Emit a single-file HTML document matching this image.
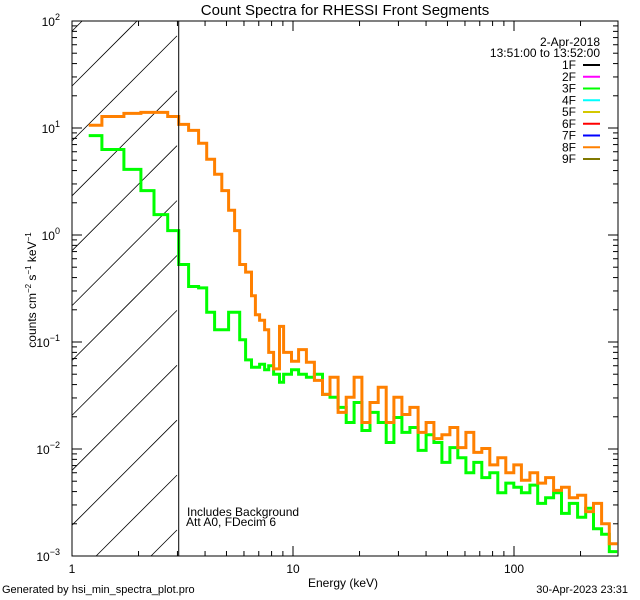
<!DOCTYPE html>
<html><head><meta charset="utf-8"><style>
html,body{margin:0;padding:0;background:#fff;width:640px;height:600px;overflow:hidden}
svg{display:block;font-family:"Liberation Sans",sans-serif}
</style></head><body>
<svg id="chart" width="640" height="600" viewBox="0 0 640 600" xmlns="http://www.w3.org/2000/svg">
<rect width="640" height="600" fill="#fff"/>
<text x="345" y="15" font-size="15" text-anchor="middle">Count Spectra for RHESSI Front Segments</text>
<defs><clipPath id="pc"><rect x="72" y="21" width="546" height="535"/></clipPath></defs>
<g id="hatch" stroke="#000" stroke-width="0.8"></g>
<g id="series" clip-path="url(#pc)"></g>
<g id="axes"></g>
<g font-size="12" text-anchor="end">
<text x="600" y="46">2-Apr-2018</text>
<text x="600" y="57">13:51:00 to 13:52:00</text>
</g>
<g id="legend"></g>
<text x="187" y="516" font-size="12">Includes Background</text>
<text x="186" y="526" font-size="12">Att A0, FDecim 6</text>
<text x="343" y="587" font-size="12" text-anchor="middle">Energy (keV)</text>
<text transform="translate(36,290) rotate(-90)" font-size="12" text-anchor="middle">counts cm<tspan font-size="8" dy="-5">−2</tspan><tspan dy="5"> s</tspan><tspan font-size="8" dy="-5">−1</tspan><tspan dy="5"> keV</tspan><tspan font-size="8" dy="-5">−1</tspan></text>
<text x="2" y="593" font-size="11">Generated by hsi_min_spectra_plot.pro</text>
<text x="628" y="593" font-size="11" text-anchor="end">30-Apr-2023 23:31</text>
</svg>
<script>
const edges=[1.19,1.366,1.717,2.05,2.35,2.71,3.04,3.37,3.74,4.07,4.42,4.76,5.11,5.44,5.74,6.1,6.49,6.76,7.06,7.44,7.76,8.17,8.69,9.07,9.84,10.6,11.5,
12.5,13.6,14.7,16.0,17.4,18.9,20.5,22.3,24.3,26.4,28.6,31.1,33.8,36.8,40.0,43.4,47.2,51.3,55.7,60.6,65.8,71.5,77.7,84.5,91.8,99.8,108,118,128,139,151,164,178,194,211,229,249,270,293];
const seg8F=[10.6,12.8,13.7,14.0,14.0,12.8,10.8,9.5,7.2,5.1,3.7,2.6,1.7,1.1,0.53,0.45,0.27,0.18,0.16,0.13,0.08,0.056,0.14,0.08,0.066,0.085,
0.0646,0.0438,0.0324,0.0468,0.0220,0.0304,0.0468,0.0177,0.0272,0.0377,0.0177,0.0304,0.0210,0.0245,0.0143,0.0177,0.0125,0.0136,0.0159,0.0103,0.0143,0.0093,0.0101,0.0071,0.0083,0.0060,0.0071,0.0051,0.0060,0.0048,0.0054,0.0041,0.0044,0.0035,0.0037,0.0026,0.0031,0.0020,0.0013];
const seg3F=[8.5,6.3,4.1,2.6,1.55,1.1,0.53,0.33,0.32,0.19,0.13,0.13,0.19,0.19,0.105,0.068,0.058,0.058,0.062,0.055,0.06,0.05,0.042,0.05,0.055,0.05,
0.0468,0.0499,0.0324,0.0304,0.0245,0.0177,0.0272,0.0149,0.0220,0.0177,0.0115,0.0197,0.0143,0.0159,0.0097,0.0136,0.0115,0.0075,0.0103,0.0083,0.0060,0.0075,0.0054,0.0060,0.0039,0.0048,0.0044,0.0039,0.0046,0.0031,0.0035,0.0039,0.0025,0.0031,0.0023,0.0028,0.0018,0.0016,0.0011];
const legendLabels=["1F","2F","3F","4F","5F","6F","7F","8F","9F"];
const legendColors=["#000000","#ff00ff","#00ff00","#00ffff","#d4c800","#ff0000","#0000ff","#ff8000","#807800"];
const xTickVals=[1,10,100];
const xTickLabels=["1","10","100"];
const yTickExps=[2,1,0,-1,-2,-3];
const X0=72,XD=221,Y0=21,YD=107,XR=618,YB=556;
const NS="http://www.w3.org/2000/svg";
function xs(e){return X0+Math.log10(e)*XD;}
function ys(v){return Y0+(2-Math.log10(v))*YD;}
function mk(t,a,p){const el=document.createElementNS(NS,t);for(const k in a)el.setAttribute(k,a[k]);p.appendChild(el);return el;}
const hatch=document.getElementById('hatch');
const HX1=177;
for(let k=-3;k<12;k++){const c=158+54.9*k;
const xa=Math.max(X0,c-YB),xb=Math.min(HX1,c-Y0);
if(xb<=xa)continue;
mk('line',{x1:xa,y1:c-xa,x2:xb,y2:c-xb},hatch);}
const axes=document.getElementById('axes');
const frame=mk('rect',{x:X0,y:Y0,width:XR-X0,height:YB-Y0,fill:'none',stroke:'#000','stroke-width':1},axes);


const vl=mk('line',{x1:xs(3.04),y1:Y0,x2:xs(3.04),y2:YB,stroke:'#000','stroke-width':1},axes);


for(let d=0;d<3;d++){for(let m=1;m<10;m++){const e=Math.pow(10,d)*m;const x=xs(e);if(x>XR)break;
const L=m===1?10:5;
mk('line',{x1:x,y1:YB,x2:x,y2:YB-L,stroke:'#000'},axes);
mk('line',{x1:x,y1:Y0,x2:x,y2:Y0+L,stroke:'#000'},axes);}}
xTickVals.forEach((v,i)=>{const t=mk('text',{x:xs(v),y:573,'font-size':12,'text-anchor':'middle'},axes);t.textContent=xTickLabels[i];

});
for(let p=-3;p<2;p++){for(let m=1;m<10;m++){const v=Math.pow(10,p)*m;const y=ys(v);
const L=m===1?10:5;
mk('line',{x1:X0,y1:y,x2:X0+L,y2:y,stroke:'#000'},axes);
mk('line',{x1:XR,y1:y,x2:XR-L,y2:y,stroke:'#000'},axes);}}
mk('line',{x1:X0,y1:Y0,x2:X0+10,y2:Y0,stroke:'#000'},axes);
yTickExps.forEach(p=>{const t=mk('text',{x:60,y:ys(Math.pow(10,p))+5,'font-size':12,'text-anchor':'end'},axes);


t.appendChild(document.createTextNode('10'));
const s=mk('tspan',{'font-size':9,dy:-6},t);s.textContent=(p<0?'−':'')+Math.abs(p);});
const ser=document.getElementById('series');
function step(vals,color,name){let d='';for(let i=0;i<vals.length;i++){const x1=xs(edges[i]),x2=xs(edges[i+1]),y=ys(vals[i]);d+=(i===0?'M':'L')+x1.toFixed(1)+','+y.toFixed(1)+'L'+x2.toFixed(1)+','+y.toFixed(1);}
const p=mk('path',{d:d,fill:'none',stroke:color,'stroke-width':3,'stroke-linejoin':'miter'},ser);

}
step(seg3F,'#00ff00','series-3f');
step(seg8F,'#ff8000','series-8f');
const lg=document.getElementById('legend');
legendLabels.forEach((lab,i)=>{const y=65+i*11.75;
const g=mk('g',{},lg);


const t=mk('text',{x:576,y:y+4,'font-size':12,'text-anchor':'end'},g);t.textContent=lab;
mk('line',{x1:583,y1:y,x2:600,y2:y,stroke:legendColors[i],'stroke-width':2},g);});
</script>
</body></html>
